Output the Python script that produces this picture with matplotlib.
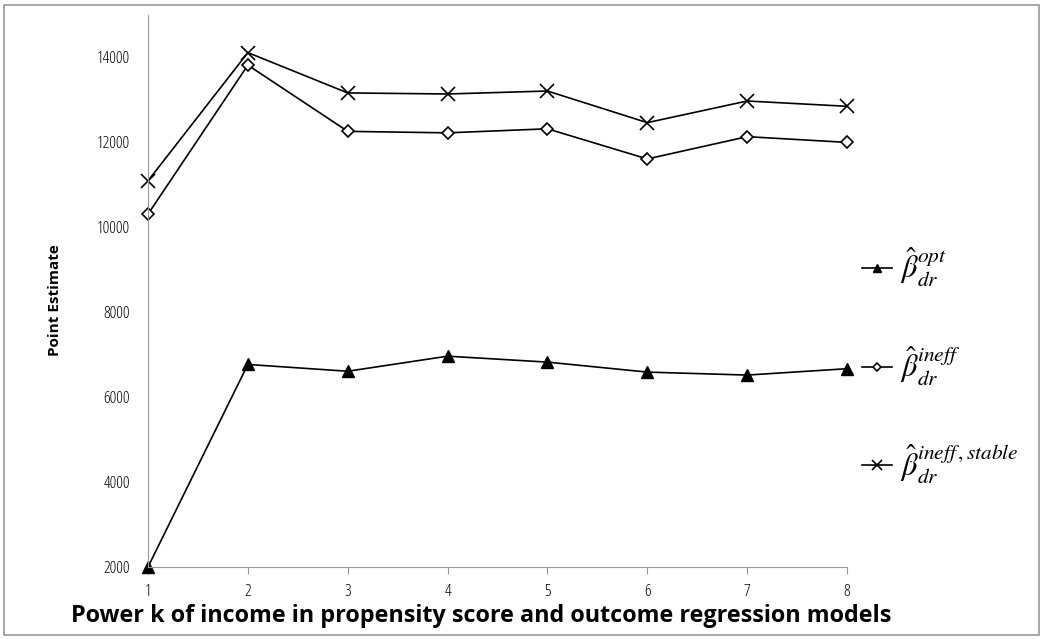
import matplotlib
matplotlib.use('Agg')
import matplotlib.pyplot as plt
from matplotlib.patches import Rectangle

plt.rcParams['mathtext.fontset'] = 'stix'

# power k of income
k = [1, 2, 3, 4, 5, 6, 7, 8]

# point estimates
opt = [2000, 6770, 6610, 6965, 6825, 6590, 6520, 6670]
ineff = [10310, 13820, 12260, 12225, 12320, 11610, 12135, 12000]
ineff_stable = [11095, 14115, 13165, 13140, 13210, 12465, 12975, 12850]

labels = [r'$\hat{\beta}_{dr}^{opt}$',
          r'$\hat{\beta}_{dr}^{ineff}$',
          r'$\hat{\beta}_{dr}^{ineff\,,stable}$']
yticks = [2000, 4000, 6000, 8000, 10000, 12000, 14000]

fig = plt.figure(figsize=(10.43, 6.39), dpi=100)
ax = fig.add_axes([0.1419, 0.1127, 0.6702, 0.8638])

ax.plot(k, opt, color='black', lw=1.2, marker='^', ms=9,
        mfc='black', mec='black', label=labels[0])
ax.plot(k, ineff, color='black', lw=1.2, marker='D', ms=6.5,
        mfc='white', mec='black', mew=1.2, label=labels[1])
ax.plot(k, ineff_stable, color='black', lw=1.2, marker='x', ms=10,
        mew=1.2, label=labels[2])

ax.set_xlim(1, 8)
ax.set_ylim(2000, 15000)
ax.set_xticks(k)
ax.set_yticks(yticks)
ax.tick_params(axis='y', length=0, pad=13, labelsize=12)
ax.tick_params(axis='x', length=5, direction='out', color='#999999',
               pad=7, labelsize=12)
for lab in ax.get_xticklabels() + ax.get_yticklabels():
    lab.set_family(['Open Sans', 'DejaVu Sans'])
    lab.set_fontstretch('condensed')
ax.spines['top'].set_visible(False)
ax.spines['right'].set_visible(False)
ax.spines['left'].set_color('#999999')
ax.spines['bottom'].set_color('#999999')
for sp in ax.spines.values():
    sp.set_clip_on(False)
for line in ax.lines:
    line.set_clip_on(False)

fig.text(0.053, 0.53, 'Point Estimate', rotation=90, ha='center', va='center',
         fontsize=11, fontweight='bold', family=['Open Sans', 'DejaVu Sans'])
fig.text(0.461, 0.036, 'Power k of income in propensity score and outcome regression models',
         ha='center', va='center', fontsize=16.8, fontweight='bold',
         family=['Open Sans', 'DejaVu Sans'])

ax.legend(loc='center left', bbox_to_anchor=(0.8, 0.427), bbox_transform=fig.transFigure,
          frameon=False, fontsize=22, labelspacing=1.8, handlelength=1.0,
          handletextpad=0.25, markerscale=0.7)

fig.add_artist(Rectangle((0.004, 0.006), 0.992, 0.986, transform=fig.transFigure,
                         fill=False, edgecolor='#999999', lw=1.2))

fig.savefig('out.png', dpi=100)
